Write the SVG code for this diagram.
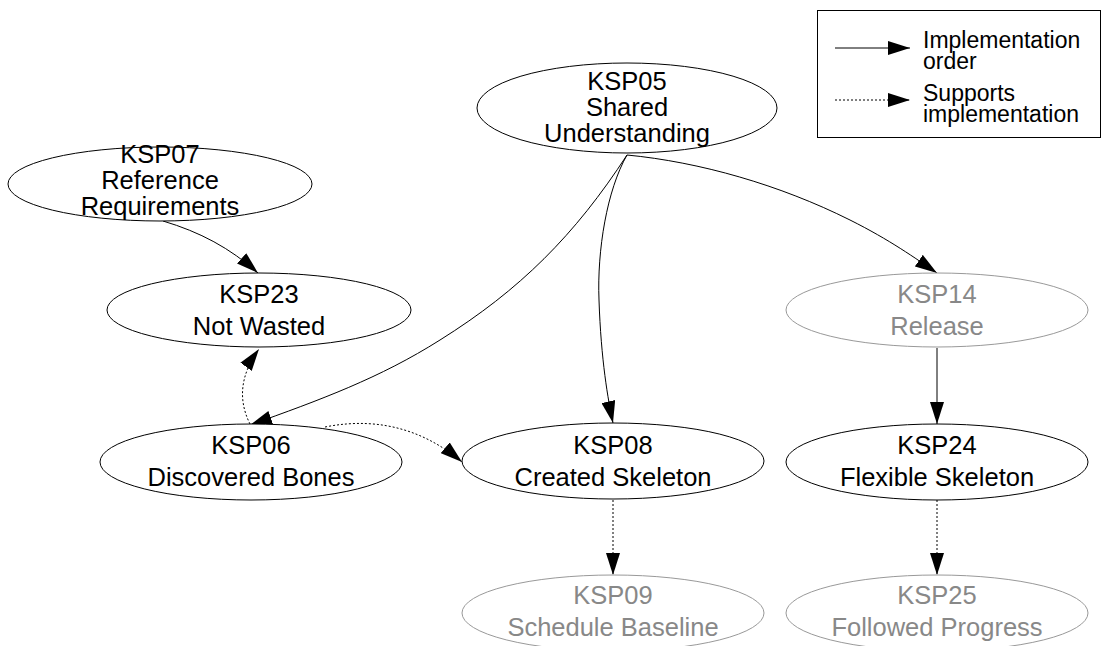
<svg xmlns="http://www.w3.org/2000/svg" width="1110" height="646" viewBox="0 0 1110 646">
  <style>
    .node ellipse { fill: #ffffff; stroke: #000000; stroke-width: 1; }
    .node text { font-family: "Liberation Sans", Arial, sans-serif; font-size: 25.5px; fill: #000000; text-anchor: middle; }
    .node.faded ellipse { stroke: #999999; }
    .node.faded text { fill: #888888; }
    .edge { fill: none; stroke: #000000; stroke-width: 1; marker-end: url(#head); }
    .dotted { stroke-dasharray: 2 2; }
    .legend-text { font-family: "Liberation Sans", Arial, sans-serif; font-size: 23px; fill: #000000; }
  </style>
  <defs>
    <marker id="head" markerUnits="userSpaceOnUse" markerWidth="22" markerHeight="14" refX="22" refY="7" orient="auto" viewBox="0 0 22 14">
      <path d="M0,0 L22,7 L0,14 Z" fill="#000000"/>
    </marker>
  </defs>

  <rect width="1110" height="646" fill="#ffffff"/>

  <!-- legend -->
  <g id="legend">
    <rect x="817.5" y="10.5" width="283" height="127" fill="none" stroke="#000000" stroke-width="1"/>
    <path class="edge" d="M835,48 L910,48"/>
    <path class="edge dotted" d="M835,100 L910,100"/>
    <text class="legend-text" x="923" y="48">Implementation</text>
    <text class="legend-text" x="923" y="69">order</text>
    <text class="legend-text" x="923" y="101">Supports</text>
    <text class="legend-text" x="923" y="122">implementation</text>
  </g>

  <!-- connectors -->
  <g id="edges">
    <path class="edge" d="M163,221 C200,232 230,248 258,273"/>
    <path class="edge" d="M627,155 C575,235 520,290 440,340 C380,378 320,400 250,425"/>
    <path class="edge" d="M627,155 C607,190 597,250 599,300 C601,360 608,400 613,423"/>
    <path class="edge" d="M627,155 C700,162 780,185 850,220 C890,240 915,258 937,273"/>
    <path class="edge" d="M937,348 L937,424"/>
    <path class="edge dotted" d="M250,424 C238,400 240,375 259,349"/>
    <path class="edge dotted" d="M325,427 C385,415 430,435 462,462"/>
    <path class="edge dotted" d="M613,500 L613,575"/>
    <path class="edge dotted" d="M937,500 L937,575"/>
  </g>

  <!-- nodes -->
  <g id="KSP07" class="node">
    <ellipse cx="160" cy="184" rx="152" ry="37"/>
    <text x="160" y="163">KSP07</text>
    <text x="160" y="189">Reference</text>
    <text x="160" y="215">Requirements</text>
  </g>
  <g id="KSP05" class="node">
    <ellipse cx="627" cy="108" rx="150" ry="45"/>
    <text x="627" y="90">KSP05</text>
    <text x="627" y="116">Shared</text>
    <text x="627" y="142">Understanding</text>
  </g>
  <g id="KSP23" class="node">
    <ellipse cx="259" cy="310" rx="152" ry="37"/>
    <text x="259" y="303">KSP23</text>
    <text x="259" y="335">Not Wasted</text>
  </g>
  <g id="KSP14" class="node faded">
    <ellipse cx="937" cy="310" rx="151" ry="37"/>
    <text x="937" y="303">KSP14</text>
    <text x="937" y="335">Release</text>
  </g>
  <g id="KSP06" class="node">
    <ellipse cx="251" cy="462" rx="151" ry="38"/>
    <text x="251" y="454">KSP06</text>
    <text x="251" y="486">Discovered Bones</text>
  </g>
  <g id="KSP08" class="node">
    <ellipse cx="613" cy="461" rx="151" ry="38"/>
    <text x="613" y="454">KSP08</text>
    <text x="613" y="486">Created Skeleton</text>
  </g>
  <g id="KSP24" class="node">
    <ellipse cx="937" cy="462" rx="151" ry="38"/>
    <text x="937" y="454">KSP24</text>
    <text x="937" y="486">Flexible Skeleton</text>
  </g>
  <g id="KSP09" class="node faded">
    <ellipse cx="613" cy="613" rx="151" ry="38"/>
    <text x="613" y="604">KSP09</text>
    <text x="613" y="636">Schedule Baseline</text>
  </g>
  <g id="KSP25" class="node faded">
    <ellipse cx="937" cy="613" rx="151" ry="38"/>
    <text x="937" y="604">KSP25</text>
    <text x="937" y="636">Followed Progress</text>
  </g>
</svg>
